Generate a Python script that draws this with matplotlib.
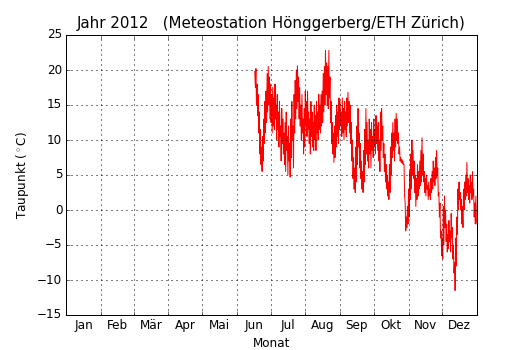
import numpy as np
import matplotlib
matplotlib.use("Agg")
import matplotlib.pyplot as plt
from matplotlib.ticker import FixedLocator, NullFormatter, FixedFormatter

plt.style.use("classic")
plt.rcParams["figure.facecolor"] = "white"
plt.rcParams["savefig.facecolor"] = "white"

# Taupunkt in °C, two readings per day (daily high/low), starting on day 168 of 2012
erster_tag = 168
schritt = 0.5
taupunkt = [
    19.8, 17.5, 20.2, 15.0, 18.0, 13.5, 16.5, 11.0, 14.0, 8.0, 11.5, 6.5, 9.0, 5.5, 10.5, 7.0, 13.0, 9.5, 15.5, 11.0,
    17.0, 12.5, 19.5, 14.0, 20.5, 15.0, 19.0, 13.0, 18.0, 12.5, 16.5, 11.0, 17.5, 12.0, 16.0, 11.5, 18.0, 13.0, 15.0, 10.0,
    16.5, 11.5, 14.0, 9.0, 15.5, 10.5, 12.0, 7.0, 14.5, 9.5, 13.0, 8.0, 11.0, 6.5, 12.5, 5.5, 14.0, 8.5, 10.5, 5.0,
    12.0, 7.0, 9.5, 4.7, 13.0, 7.5, 15.5, 10.0, 12.0, 6.0, 16.5, 11.0, 18.5, 13.0, 20.0, 14.5, 20.6, 15.5, 19.0, 13.0,
    17.5, 12.0, 15.0, 10.0, 16.5, 11.0, 13.0, 8.0, 14.5, 9.0, 17.0, 12.0, 15.5, 10.5, 17.0, 11.5, 14.0, 9.5, 13.0, 8.0,
    15.5, 10.5, 14.0, 9.0, 12.5, 8.5, 15.0, 10.0, 13.5, 8.5, 15.5, 11.0, 14.0, 10.0, 16.5, 11.5, 15.0, 11.0, 16.5, 12.0,
    17.0, 12.5, 19.5, 14.0, 20.5, 15.0, 22.8, 16.5, 21.0, 15.0, 20.5, 14.5, 22.8, 16.0, 19.0, 12.5, 15.5, 9.5, 12.5, 8.0,
    11.0, 6.8, 12.0, 7.5, 13.5, 9.0, 15.0, 10.5, 14.0, 9.5, 16.0, 11.5, 15.5, 12.0, 14.0, 10.5, 16.0, 11.0, 14.5, 10.0,
    15.5, 11.5, 14.0, 10.5, 16.0, 12.0, 16.8, 12.5, 15.5, 11.0, 15.0, 9.5, 12.5, 7.0, 10.0, 4.5, 7.5, 3.0, 6.0, 2.5,
    9.0, 4.0, 12.0, 6.5, 14.5, 9.0, 11.0, 6.0, 9.5, 4.5, 7.0, 3.0, 5.5, 2.5, 8.5, 4.0, 11.5, 6.5, 14.5, 8.0,
    12.5, 7.0, 10.0, 6.0, 13.0, 8.0, 11.5, 6.0, 12.5, 8.5, 10.5, 7.5, 13.0, 9.0, 11.5, 8.0, 13.5, 9.5, 12.0, 8.5,
    12.5, 7.0, 10.0, 5.5, 14.0, 8.5, 14.5, 10.0, 12.0, 7.5, 9.5, 5.5, 8.0, 4.0, 6.5, 3.0, 5.0, 2.0, 4.0, 1.5,
    6.5, 2.5, 9.0, 5.0, 11.0, 7.5, 12.5, 8.5, 11.0, 7.0, 13.0, 9.0, 13.8, 10.0, 13.0, 9.5, 11.0, 8.0, 9.0, 7.0,
    7.5, 6.8, 7.2, 6.6, 7.0, 6.5, 6.5, 2.0, 1.0, -3.0, -1.0, -2.5, 0.5, -2.0, 3.0, -1.0, 5.5, 1.5, 8.0, 3.0,
    10.0, 5.0, 8.5, 4.5, 7.0, 2.5, 5.0, 0.5, 4.5, 1.5, 6.5, 2.0, 5.5, 3.0, 7.0, 3.5, 8.5, 4.0, 10.3, 5.0,
    8.0, 4.0, 5.5, 2.5, 4.5, 2.0, 5.0, 3.0, 3.5, 1.5, 4.0, 2.0, 3.0, 1.5, 4.5, 2.5, 5.5, 3.0, 7.0, 4.0,
    6.0, 3.5, 7.5, 4.5, 8.5, 5.0, 6.0, 2.0, 2.5, -1.0, 1.0, -4.0, -3.0, -6.5, -4.0, -7.0, 0.5, -5.0, 2.0, -2.5,
    0.0, -4.5, -2.0, -6.0, -3.5, -5.5, -1.5, -4.5, -3.0, -6.0, -0.5, -4.0, -2.5, -7.0, -5.0, -9.0, -7.5, -11.5, -4.0, -8.0,
    -1.0, -3.5, 3.0, 0.0, 4.0, 1.5, 2.5, 0.0, 1.5, -2.0, 0.5, -2.5, 3.0, 0.0, 4.0, 1.5, 5.0, 2.0, 6.8, 2.5,
    4.5, 1.5, 3.5, 1.0, 5.0, 2.5, 4.0, 1.5, 5.5, 2.0, 3.0, -1.0, 1.0, -2.0, 2.0, -1.5,
    -2.0,
]

monate = ["Jan", "Feb", "Mär", "Apr", "Mai", "Jun", "Jul", "Aug", "Sep", "Okt", "Nov", "Dez"]
monatsanfang = [0, 31, 60, 91, 121, 152, 182, 213, 244, 274, 305, 335, 366]

tage = erster_tag + schritt * np.arange(len(taupunkt))
monatsmitte = [(a + b) / 2 for a, b in zip(monatsanfang[:-1], monatsanfang[1:])]

fig = plt.figure(figsize=(530 / 72, 350 / 72), dpi=72)
ax = fig.add_subplot(111)
ax.plot(tage, taupunkt, "r-", linewidth=1)

ax.set_xlim(0, 366)
ax.set_ylim(-15, 25)
ax.set_yticks(np.arange(-15, 26, 5))

# month boundaries as major ticks (grid), names centred on minor ticks
ax.xaxis.set_major_locator(FixedLocator(monatsanfang))
ax.xaxis.set_major_formatter(NullFormatter())
ax.xaxis.set_minor_locator(FixedLocator(monatsmitte))
ax.xaxis.set_minor_formatter(FixedFormatter(monate))
ax.tick_params(axis="x", which="minor", length=0)

ax.grid(True, color="k", linewidth=1, linestyle=(0, (1, 4)))
ax.set_xlabel("Monat")
ax.set_ylabel("Taupunkt ($^\\circ$C)", labelpad=6)
ax.set_title("Jahr 2012   (Meteostation Hönggerberg/ETH Zürich)", fontsize=15, pad=7)

fig.savefig("out.png", dpi=72)
